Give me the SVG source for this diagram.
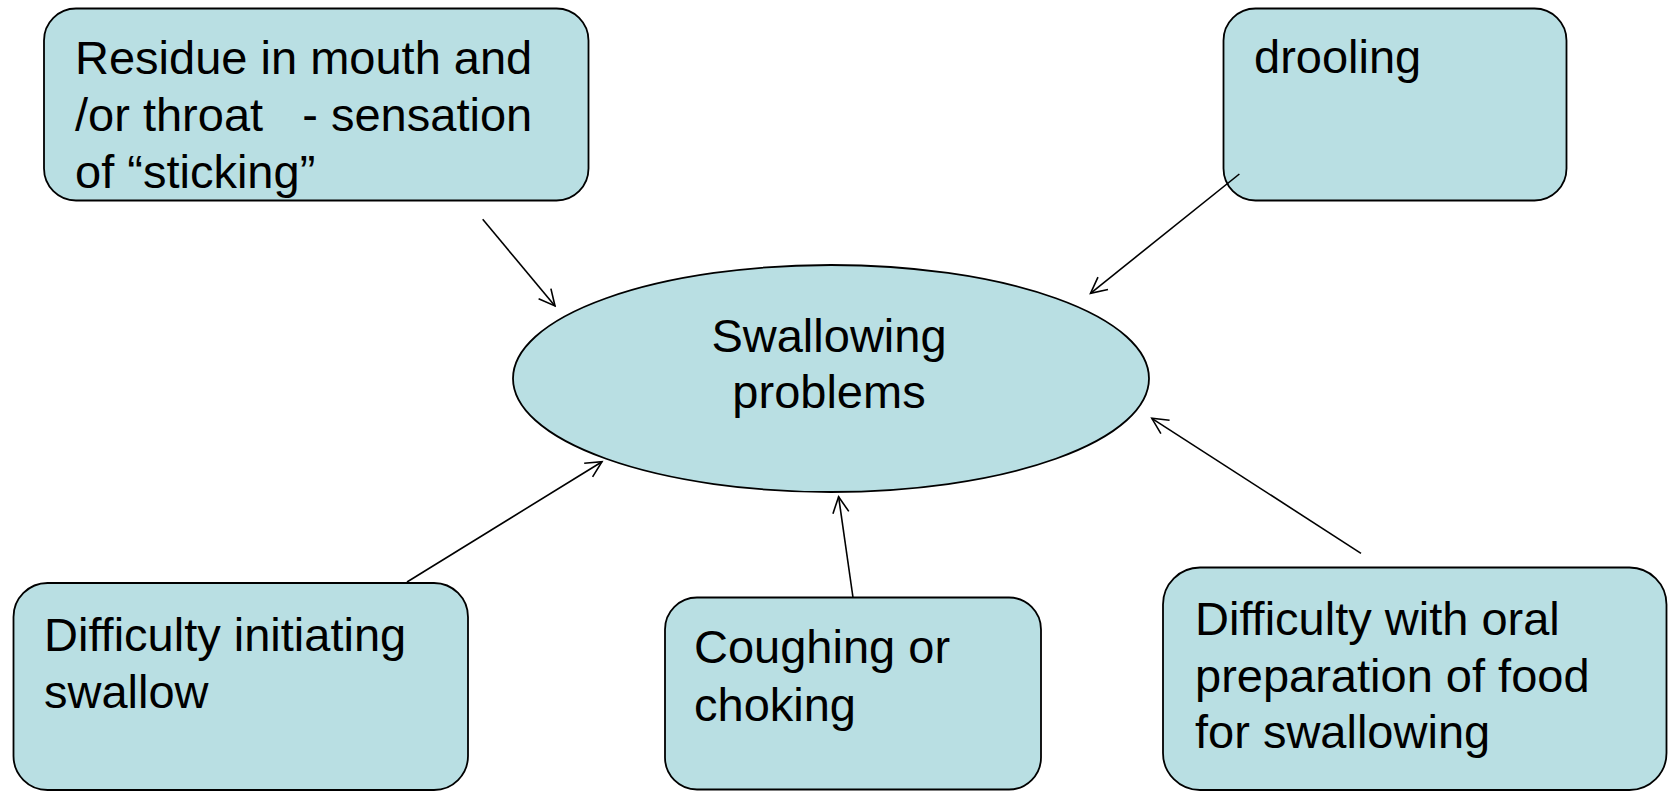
<svg xmlns="http://www.w3.org/2000/svg" width="1668" height="792" viewBox="0 0 1668 792">
<defs>
<style>
.box{fill:#B9DFE3;stroke:#000;stroke-width:1.8}
.t{font-family:"Liberation Sans",Arial,sans-serif;font-size:47px;fill:#000}
.c{text-anchor:middle}
.ln{stroke:#000;stroke-width:1.6;fill:none;marker-end:url(#arr)}
</style>
<marker id="arr" markerUnits="userSpaceOnUse" markerWidth="20" markerHeight="20" viewBox="0 0 20 20" refX="18" refY="10" orient="auto">
<path d="M2,2 L18,10 L2,18" fill="none" stroke="#000" stroke-width="1.6"/>
</marker>
</defs>
<rect width="1668" height="792" fill="#fff"/>
<g id="center">
<ellipse class="box" cx="831" cy="378.5" rx="318" ry="113.5"/>
<text class="t c" x="829" y="352">Swallowing</text>
<text class="t c" x="829" y="407.5">problems</text>
</g>
<g id="residue">
<rect class="box" x="44" y="8.5" width="544.5" height="192" rx="32"/>
<text class="t" x="75" y="73.5">Residue in mouth and</text>
<text class="t" x="75" y="131">/or throat&#160;&#160; - sensation</text>
<text class="t" x="75" y="187.5">of “sticking”</text>
</g>
<g id="drooling">
<rect class="box" x="1223.5" y="8.5" width="343" height="192" rx="32"/>
<text class="t" x="1254" y="73">drooling</text>
</g>
<g id="initiating">
<rect class="box" x="13.5" y="583" width="454.5" height="207" rx="34"/>
<text class="t" x="44" y="651">Difficulty initiating</text>
<text class="t" x="44" y="708">swallow</text>
</g>
<g id="coughing">
<rect class="box" x="665" y="597.5" width="376" height="192" rx="32"/>
<text class="t" x="694" y="663">Coughing or</text>
<text class="t" x="694" y="721">choking</text>
</g>
<g id="oral">
<rect class="box" x="1163" y="567.5" width="503.5" height="222.5" rx="37"/>
<text class="t" x="1195" y="635">Difficulty with oral</text>
<text class="t" x="1195" y="692">preparation of food</text>
<text class="t" x="1195" y="748">for swallowing</text>
</g>
<g id="connectors">
<line class="ln" x1="482.7" y1="219.3" x2="555" y2="306"/>
<line class="ln" x1="1239.4" y1="174" x2="1090.5" y2="293.3"/>
<line class="ln" x1="407" y1="582" x2="602" y2="461.7"/>
<line class="ln" x1="853" y1="597.5" x2="838.6" y2="496.7"/>
<line class="ln" x1="1361" y1="553.3" x2="1151.8" y2="418.3"/>
</g>
</svg>
